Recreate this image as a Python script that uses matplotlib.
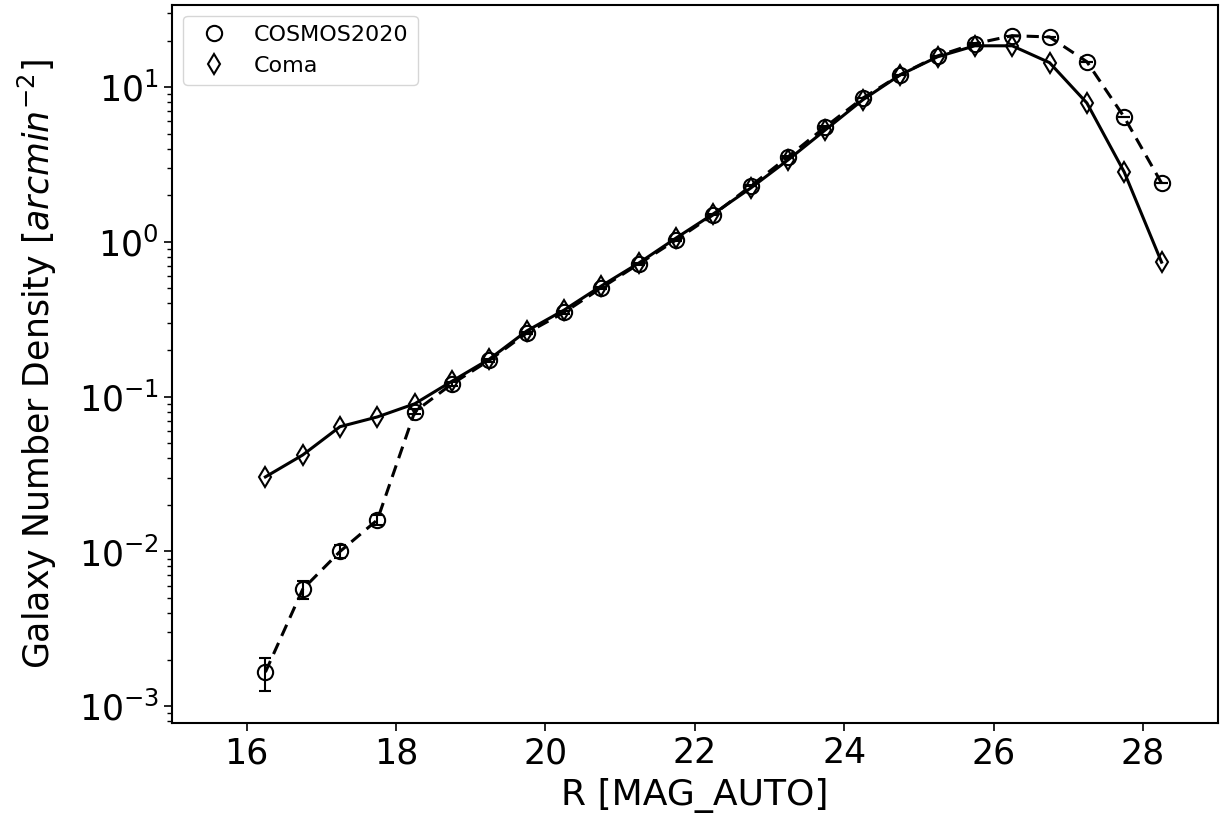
import matplotlib
matplotlib.use("Agg")
import matplotlib.pyplot as plt
from matplotlib.lines import Line2D
import numpy as np

# magnitude bin centres
mag = [16.25, 16.75, 17.25, 17.75, 18.25, 18.75, 19.25, 19.75, 20.25, 20.75,
       21.25, 21.75, 22.25, 22.75, 23.25, 23.75, 24.25, 24.75, 25.25, 25.75,
       26.25, 26.75, 27.25, 27.75, 28.25]

# COSMOS2020 number density and errors
cosmos = [0.00166, 0.0057, 0.0100, 0.0160, 0.080, 0.121, 0.172, 0.258, 0.350, 0.505,
          0.72, 1.03, 1.50, 2.30, 3.55, 5.55, 8.5, 12.0, 15.9, 19.1,
          21.5, 21.1, 14.6, 6.4, 2.4]
cosmos_err = [0.0004, 0.00074, 0.00098, 0.0012, 0.0028, 0.0034, 0.004, 0.005, 0.006, 0.007,
              0.008, 0.01, 0.012, 0.015, 0.019, 0.023, 0.029, 0.035, 0.04, 0.044,
              0.046, 0.046, 0.038, 0.025, 0.015]

# Coma number density
coma = [0.0303, 0.042, 0.064, 0.074, 0.090, 0.126, 0.175, 0.266, 0.363, 0.52,
        0.73, 1.06, 1.52, 2.23, 3.39, 5.3, 8.28, 12.0, 15.7, 18.5,
        18.5, 14.4, 7.9, 2.83, 0.74]

fig = plt.figure(figsize=(12.2, 8.15), dpi=100)
ax = fig.add_axes([0.141, 0.113, 0.857, 0.881])

ax.plot(mag, cosmos, color='black', ls='--', lw=2.2, dashes=(4, 2.5))
ax.errorbar(mag, cosmos, yerr=cosmos_err, fmt='o', mfc='none', mec='black',
            ecolor='black', ms=11, mew=1.5, capsize=4, elinewidth=1.5)
ax.plot(mag, coma, color='black', ls='-', lw=2.2)
ax.plot(mag, coma, 'd', mfc='none', mec='black', ms=10, mew=1.5)

ax.set_yscale('log')
ax.set_xlim(15, 29)
ax.set_ylim(7.8e-4, 34)
ax.set_xticks([16, 18, 20, 22, 24, 26, 28])

ax.set_xlabel('R [MAG_AUTO]', fontsize=26, labelpad=6)
ax.set_ylabel(r'Galaxy Number Density [$arcmin^{-2}$]', fontsize=25, labelpad=14)
ax.tick_params(axis='both', which='major', labelsize=25, length=6, width=1.2)
ax.tick_params(axis='y', which='minor', length=3.5, width=1)
for s in ax.spines.values():
    s.set_linewidth(1.5)

handles = [Line2D([], [], marker='o', ls='none', mfc='none', mec='black', ms=11, mew=1.5),
           Line2D([], [], marker='d', ls='none', mfc='none', mec='black', ms=10, mew=1.5)]
ax.legend(handles, ['COSMOS2020', 'Coma'], loc='upper left', fontsize=16)

fig.savefig('out.png', dpi=100)
